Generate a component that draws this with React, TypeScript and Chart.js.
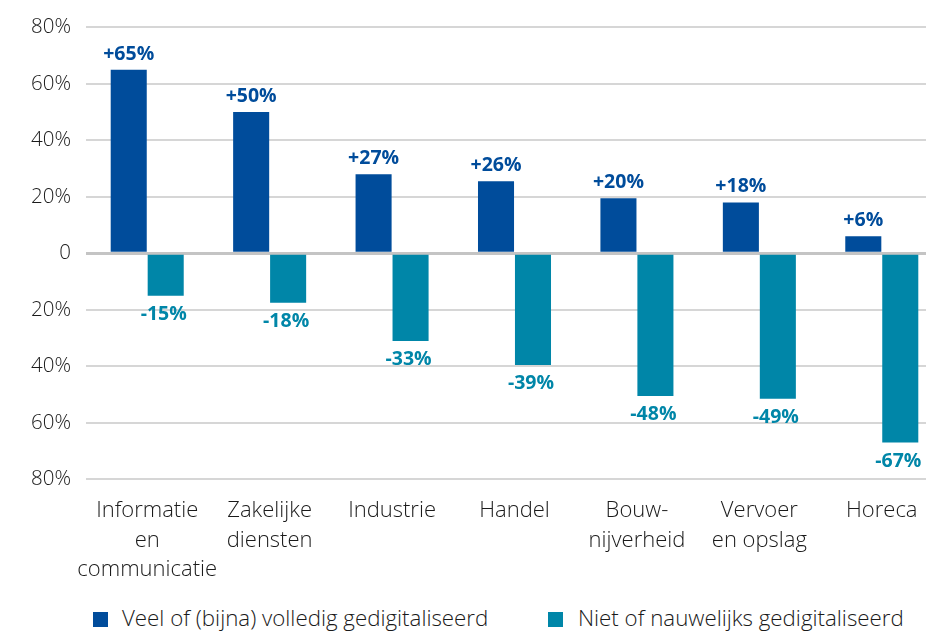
import React, { useEffect, useRef } from "react";
import { Chart, registerables } from "chart.js";

Chart.register(...registerables);

const categories: string[][] = [
  ["Informatie", "en", "communicatie"],
  ["Zakelijke", "diensten"],
  ["Industrie"],
  ["Handel"],
  ["Bouw-", "nijverheid"],
  ["Vervoer", "en opslag"],
  ["Horeca"],
];
const digitalised: number[] = [65, 50, 28, 25.5, 19.5, 18, 6];
const digitalisedLabels: string[] = ["+65%", "+50%", "+27%", "+26%", "+20%", "+18%", "+6%"];
const notDigitalised: number[] = [-15, -17.5, -31, -39.5, -50.5, -51.5, -67];
const notDigitalisedLabels: string[] = ["-15%", "-18%", "-33%", "-39%", "-48%", "-49%", "-67%"];
const seriesNames: string[] = ["Veel of (bijna) volledig gedigitaliseerd", "Niet of nauwelijks gedigitaliseerd"];
const yTicks: number[] = [-80, -60, -40, -20, 0, 20, 40, 60, 80];

const BLUE = "#004c9b";
const TEAL = "#0086a8";
const FONT = "'Open Sans'";

const valueLabelPlugin = {
  id: "valueLabels",
  afterDatasetsDraw(chart: any) {
    const ctx = chart.ctx;
    ctx.save();
    ctx.font = `bold 19.5px ${FONT}`;
    ctx.textAlign = "center";
    chart.data.datasets.forEach((ds: any, di: number) => {
      const meta = chart.getDatasetMeta(di);
      const labels = di === 0 ? digitalisedLabels : notDigitalisedLabels;
      meta.data.forEach((bar: any, i: number) => {
        ctx.fillStyle = di === 0 ? BLUE : TEAL;
        if (ds.data[i] >= 0) {
          ctx.textBaseline = "alphabetic";
          ctx.fillText(labels[i], bar.x, bar.y - 10);
        } else {
          ctx.textBaseline = "top";
          ctx.fillText(labels[i], bar.x - 2, bar.y + 9);
        }
      });
    });
    ctx.restore();
  },
};

export default function App() {
  const ref = useRef<HTMLCanvasElement | null>(null);
  useEffect(() => {
    if (!ref.current) return;
    const chart = new Chart(ref.current, {
      type: "bar",
      data: {
        labels: categories,
        datasets: [
          {
            label: seriesNames[0],
            data: digitalised,
            backgroundColor: BLUE,
            categoryPercentage: 0.604,
            barPercentage: 0.975,
          },
          {
            label: seriesNames[1],
            data: notDigitalised,
            backgroundColor: TEAL,
            categoryPercentage: 0.604,
            barPercentage: 0.975,
          },
        ],
      },
      options: {
        animation: false,
        responsive: false,
        maintainAspectRatio: false,
        layout: { padding: { top: 26, left: 0, right: 0, bottom: 0 } },
        plugins: {
          legend: { display: false },
          tooltip: { enabled: false },
        },
        scales: {
          x: {
            grid: { display: false },
            border: { display: false },
            ticks: {
              color: "#1a1a1a",
              font: { family: FONT, size: 22, weight: "300" as any, lineHeight: 1.34 },
              padding: 9,
              maxRotation: 0,
              autoSkip: false,
            },
            afterFit(scale: any) {
              scale.height = 600 - 479.3;
            },
          },
          y: {
            min: -80,
            max: 80,
            afterBuildTicks(scale: any) {
              scale.ticks = yTicks.map((v) => ({ value: v }));
            },
            grid: {
              drawTicks: false,
              color: (c: any) => (c.tick && c.tick.value === 0 ? "#c4c4c4" : "#d6d6d6"),
              lineWidth: (c: any) => (c.tick && c.tick.value === 0 ? 3 : 2),
            },
            border: { display: false },
            ticks: {
              color: "#1a1a1a",
              font: { family: FONT, size: 20.5, weight: "300" as any },
              padding: 15,
              callback: (v: any) => (v === 0 ? "0" : Math.abs(v) + "%"),
            },
            afterFit(scale: any) {
              scale.width = 86;
            },
          },
        },
      },
      plugins: [valueLabelPlugin],
    });
    return () => chart.destroy();
  }, []);

  const legendText: React.CSSProperties = {
    position: "absolute",
    top: 604,
    fontFamily: FONT,
    fontWeight: 300,
    fontSize: 22.3,
    lineHeight: "28px",
    color: "#1a1a1a",
    whiteSpace: "nowrap",
  };
  const box = (left: number, color: string): React.CSSProperties => ({
    position: "absolute",
    left,
    top: 612,
    width: 15,
    height: 15,
    background: color,
  });

  return (
    <div
      style={{
        position: "fixed",
        left: 0,
        top: 0,
        width: 926,
        height: 633,
        overflow: "hidden",
        background: "#fff",
      }}
    >
      <canvas ref={ref} width={943} height={600} style={{ position: "absolute", left: 0, top: 0, width: 943, height: 600 }} />
      <div style={box(93, BLUE)} />
      <div style={{ ...legendText, left: 122 }}>{seriesNames[0]}</div>
      <div style={box(548, TEAL)} />
      <div style={{ ...legendText, left: 578 }}>{seriesNames[1]}</div>
    </div>
  );
}
